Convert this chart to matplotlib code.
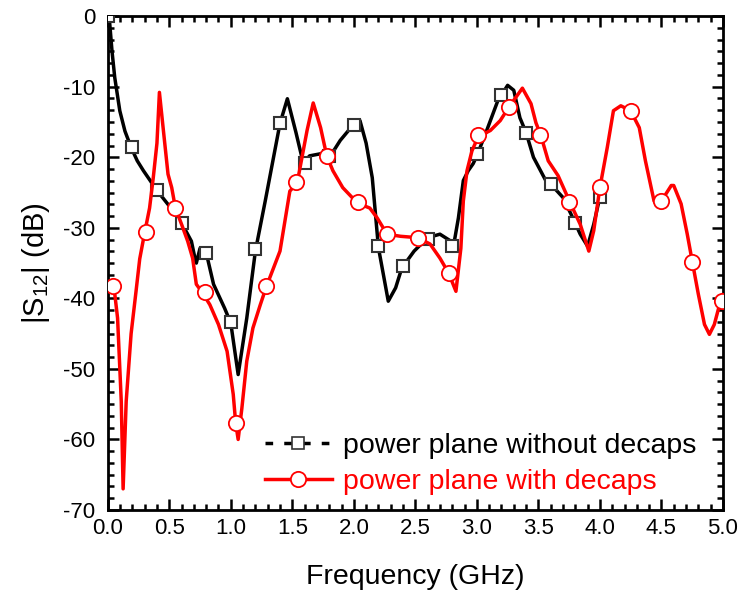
import matplotlib
matplotlib.use('Agg')
import matplotlib.pyplot as plt
from matplotlib.lines import Line2D
from matplotlib.ticker import MultipleLocator, AutoMinorLocator

plt.rcParams['font.family'] = ['Liberation Sans', 'DejaVu Sans']
plt.rcParams['mathtext.default'] = 'regular'
plt.rcParams['axes.unicode_minus'] = False

# traced curve: power plane without decaps
f_nodecap = [0.0, 0.016, 0.035, 0.057, 0.098, 0.14, 0.19, 0.24, 0.29, 0.40, 0.50, 0.60, 0.68, 0.71, 0.72,
             0.75, 0.80, 0.86, 0.95, 1.0, 1.06, 1.13, 1.2, 1.28, 1.4, 1.46, 1.53, 1.59,
             1.64, 1.73, 1.81, 1.89, 2.0, 2.05, 2.1, 2.15, 2.2, 2.26, 2.28, 2.34, 2.39,
             2.49, 2.6, 2.7, 2.79, 2.81, 2.85, 2.89, 2.93, 2.97, 3.0, 3.08, 3.17, 3.25,
             3.3, 3.35, 3.4, 3.46, 3.56, 3.6, 3.7, 3.78, 3.84, 3.9, 3.95, 4.0]
s_nodecap = [0.0, -1.0, -5.0, -8.7, -13.4, -16.3, -18.6, -20.5, -21.9, -24.7, -26.9, -29.3, -31.9, -34.4, -35.0,
             -32.9, -33.5, -38.0, -41.4, -43.5, -50.8, -42.8, -33.3, -26.2, -15.2, -11.7, -16.5, -20.9,
             -19.8, -19.5, -19.8, -17.6, -15.3, -14.8, -18.0, -22.9, -32.8, -38.5, -40.4, -38.5, -35.7,
             -33.3, -31.4, -30.9, -31.9, -32.6, -28.6, -23.3, -21.9, -20.9, -19.8, -16.2, -12.0, -9.8,
             -10.5, -14.4, -16.5, -20.0, -23.3, -23.8, -25.7, -28.6, -30.9, -32.6, -29.5, -25.6]

# markers on the curve without decaps
fm_nodecap = [0.0, 0.2, 0.4, 0.6, 0.8, 1.0, 1.2, 1.4, 1.6, 1.8, 2.0, 2.2, 2.4, 2.6, 2.8,
              3.0, 3.2, 3.4, 3.6, 3.8, 4.0]
sm_nodecap = [0.0, -18.5, -24.6, -29.3, -33.6, -43.4, -33.0, -15.2, -20.8, -19.8, -15.4, -32.6,
              -35.4, -31.6, -32.6, -19.6, -11.2, -16.5, -23.8, -29.3, -25.6]

# traced curve: power plane with decaps
f_decap = [0.0, 0.05, 0.08, 0.11, 0.125, 0.15, 0.19, 0.23, 0.26, 0.3, 0.34, 0.37, 0.40, 0.42,
           0.45, 0.49, 0.52, 0.55, 0.6, 0.65, 0.69, 0.72, 0.77, 0.83, 0.9, 0.97, 1.02, 1.04,
           1.06, 1.09, 1.13, 1.18, 1.24, 1.29, 1.4, 1.48, 1.54, 1.62, 1.67, 1.73, 1.78, 1.83,
           1.91, 2.03, 2.13, 2.19, 2.27, 2.38, 2.52, 2.62, 2.7, 2.77, 2.83, 2.87, 2.89, 2.92,
           2.96, 3.01, 3.11, 3.19, 3.26, 3.37, 3.44, 3.48, 3.52, 3.58, 3.66, 3.76, 3.84, 3.91,
           3.95, 4.0, 4.06, 4.11, 4.17, 4.25, 4.32, 4.37, 4.44, 4.47, 4.5, 4.58, 4.6, 4.66,
           4.71, 4.75, 4.8, 4.85, 4.89, 4.93, 4.98, 5.0]
s_decap = [-38.0, -38.3, -42.8, -54.6, -67.0, -54.6, -45.0, -39.0, -34.4, -30.7, -27.2, -22.9, -18.0, -10.8,
           -15.8, -22.4, -24.3, -27.2, -29.5, -31.9, -34.3, -38.0, -39.2, -40.9, -43.7, -47.5, -53.6, -57.7,
           -60.0, -55.6, -48.9, -44.2, -40.9, -38.3, -33.3, -24.8, -23.6, -16.2, -12.3, -15.8, -19.8, -21.9,
           -24.3, -26.5, -27.2, -28.6, -30.9, -31.2, -31.4, -32.3, -34.3, -36.4, -39.0, -32.9, -26.2, -21.9,
           -19.1, -17.1, -16.2, -14.8, -12.9, -10.2, -12.4, -15.1, -16.9, -20.5, -22.6, -26.5, -29.5, -33.3,
           -30.4, -24.3, -18.6, -13.4, -12.7, -13.4, -15.8, -20.5, -26.2, -26.9, -26.2, -24.0, -24.0, -26.6,
           -30.9, -34.7, -39.4, -43.7, -45.1, -43.7, -40.4, -39.5]

# markers on the curve with decaps
fm_decap = [0.04, 0.31, 0.55, 0.79, 1.04, 1.29, 1.53, 1.78, 2.03, 2.27, 2.52, 2.77, 3.01,
            3.26, 3.51, 3.75, 4.0, 4.25, 4.5, 4.75, 4.99]
sm_decap = [-38.3, -30.6, -27.2, -39.1, -57.6, -38.3, -23.5, -19.8, -26.3, -30.9, -31.4, -36.4, -16.9,
            -12.9, -16.9, -26.3, -24.2, -13.4, -26.2, -34.8, -40.4]

fig = plt.figure(figsize=(7.43, 6.0), dpi=100)
ax = fig.add_axes([0.145, 0.15, 0.828, 0.823])

ax.plot(f_nodecap, s_nodecap, color='black', lw=2.5, solid_joinstyle='round', zorder=2)
ax.plot(fm_nodecap, sm_nodecap, ls='none', marker='s', ms=8, mfc='white', mec='#333333',
        mew=1.5, zorder=3)
ax.plot(f_decap, s_decap, color='red', lw=2.5, solid_joinstyle='round', zorder=4)
ax.plot(fm_decap, sm_decap, ls='none', marker='o', ms=11, mfc='white', mec='red',
        mew=1.3, zorder=5)

ax.set_xlim(0, 5)
ax.set_ylim(-70, 0)
ax.xaxis.set_major_locator(MultipleLocator(0.5))
ax.xaxis.set_minor_locator(AutoMinorLocator(5))
ax.yaxis.set_major_locator(MultipleLocator(10))
ax.yaxis.set_minor_locator(AutoMinorLocator(6))
ax.tick_params(which='both', direction='in', top=True, right=True, width=1.8, labelsize=16)
ax.tick_params(which='major', length=8)
ax.tick_params(which='minor', length=4)
ax.tick_params(axis='y', pad=9)
ax.tick_params(axis='x', pad=6)
for sp in ax.spines.values():
    sp.set_linewidth(2)

ax.set_xlabel('Frequency (GHz)', fontsize=20.5, labelpad=18)
ax.set_ylabel('|S$_{12}$| (dB)', fontsize=21, labelpad=8)

handles = [
    Line2D([], [], color='black', lw=2.5, ls=(0, (2.2, 3.2)), marker='s', ms=8, mfc='white',
           mec='#333333', mew=1.2),
    Line2D([], [], color='red', lw=2.5, marker='o', ms=11, mfc='white', mec='red', mew=1.3),
]
leg = ax.legend(handles, ['power plane without decaps', 'power plane with decaps'],
                loc='lower left', bbox_to_anchor=(0.255, 0.03), frameon=False, fontsize=20.5,
                handlelength=2.35, handletextpad=0.4, labelspacing=0.35,
                borderpad=0, borderaxespad=0)
leg.get_texts()[1].set_color('red')

fig.savefig('out.png', dpi=100)
